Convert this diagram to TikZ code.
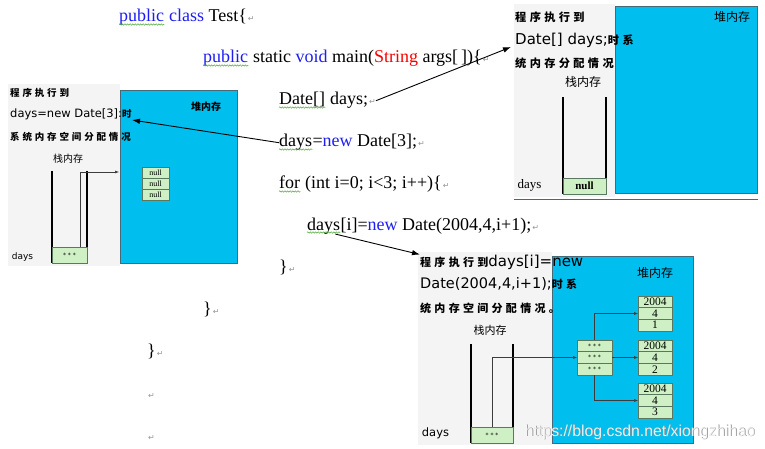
\documentclass[tikz,border=0pt]{standalone}
\usepackage{fontspec}
\setmainfont{Liberation Serif}
\newfontfamily\cjk{Noto Sans CJK SC}
\newfontfamily\cjksp[LetterSpace=30]{Noto Sans CJK SC}
\newfontfamily\dvs{DejaVu Sans}
\newfontfamily\wmfont{Liberation Sans}
\usetikzlibrary{arrows.meta,
                decorations.pathmorphing,
                positioning}

\definecolor{heapblue}{RGB}{0,191,238}
\definecolor{heapedge}{RGB}{70,105,120}
\definecolor{cellgreen}{RGB}{206,240,196}
\definecolor{celledge}{RGB}{90,120,95}
\definecolor{kwblue}{RGB}{30,30,240}
\definecolor{strred}{RGB}{250,0,0}
\definecolor{wavegreen}{RGB}{80,170,60}
\definecolor{panelgray}{RGB}{244,244,244}
\definecolor{retgray}{RGB}{150,150,150}
\definecolor{ptrgray}{RGB}{60,60,60}
\definecolor{tealline}{RGB}{40,120,120}

\newcommand{\kw}[1]{\textcolor{kwblue}{#1}}
\newcommand{\rt}{\kern1pt\textcolor{retgray}{\dvs\fontsize{8}{8}\selectfont ↵}}
\newcommand{\zh}[2]{{\cjksp\bfseries\fontsize{#1}{#1}\selectfont #2}}
\newcommand{\en}[2]{{\dvs\fontsize{#1}{#1}\selectfont #2}}

\begin{document}
\begin{tikzpicture}[x=1pt,y=-1pt,
    code/.style={anchor=base west,inner sep=0pt,font=\fontsize{18}{18}\selectfont},
    squig/.style={draw=wavegreen,line width=0.5pt,decorate,
        decoration={snake,amplitude=0.7pt,segment length=2.6pt}},
    ptxt/.style={anchor=west,inner sep=0pt},
    heap/.style={draw=heapedge,fill=heapblue,line width=0.8pt},
    stack/.style={line width=1.2pt},
    cell/.style={draw=celledge,fill=cellgreen,inner sep=0pt,outer sep=0pt,line width=0.6pt},
    conn/.style={-{Latex[length=8pt,width=5.5pt]},line width=0.9pt},
    ptr/.style={-{Latex[length=4pt,width=3pt]},line width=0.5pt,draw=ptrgray}]

    \useasboundingbox (0,0) rectangle (765,449);

    % the Java code; the first word of a line is its own node, for the squiggle
    \node[code] (u0) at (119,22) {\kw{public}};
    \node[code] (c0) at (u0.base east) {\ \kw{class} Test\{\rt};
    \node[code] (u1) at (203,63) {\kw{public}};
    \node[code] (c1) at (u1.base east) {\ static \kw{void} main(\textcolor{strred}{String} args[\,])\{\rt};
    \node[code] (u2) at (279,105) {Date[]};
    \node[code] (c2) at (u2.base east) {\ days;\rt};
    \node[code] (u3) at (279,147) {days};
    \node[code] (c3) at (u3.base east) {=\kw{new} Date[3];\rt};
    \node[code] (u4) at (279,189) {for};
    \node[code] (c4) at (u4.base east) {\ (int i=0; i<3; i++)\{\rt};
    \node[code] (u5) at (307,230) {days};
    \node[code] (c5) at (u5.base east) {[i]=\kw{new} Date(2004,4,i+1);\rt};
    \node[code] (c6) at (279,272) {\}\rt};
    \node[code] (c7) at (203,314) {\}\rt};
    \node[code] (c8) at (147,356) {\}\rt};
    \node[code] (c9) at (147,398) {\rt};
    \node[code] (c10) at (147,440) {\rt};
    \foreach \u in {u0,u1,u2,u3,u4,u5}
        \draw[squig] ([yshift=-2.5pt]\u.base west) -- ([yshift=-2.5pt]\u.base east);

    % panel after days=new Date[3];
    \fill[panelgray] (8,84) rectangle (120,266);
    \draw[heap] (120,90) rectangle (237,263);
    \node (lheap) at (206,107) {\cjk\bfseries\fontsize{10}{10}\selectfont 堆内存};
    \node[ptxt] (la) at (10,93) {\zh{9.5}{程序执行到}};
    \node[ptxt] (lb) at (10,114) {\en{11.5}{days=new Date[3]:}\zh{9.5}{时}};
    \node[ptxt] (lc) at (10,137) {\zh{9.5}{系统内存空间分配情况}};
    \node (lstk) at (68,159) {\cjk\fontsize{10}{10}\selectfont 栈内存};
    \draw[stack] (52,171) -- (52,263);
    \draw[stack] (87,171) -- (87,263);
    \node[cell,minimum width=35pt,minimum height=16pt,font=\dvs\fontsize{6}{6}\selectfont] (ls) at (69.5,255) {* * *};
    \node[font=\dvs\fontsize{9}{9}\selectfont] (ldays) at (22.5,257) {days};
    \foreach \k/\yy in {1/172.5,2/183.5,3/194.5}
        \node[cell,minimum width=27pt,minimum height=11pt,font=\fontsize{8}{8}\selectfont] (n\k) at (155.5,\yy) {null};
    \coordinate (lhit) at (119,172);
    \draw[ptr] ([xshift=10.5pt]ls.north) |- (lhit);

    % panel after Date[] days;
    \fill[panelgray] (514,4) rectangle (615,197);
    \draw[tealline, line width=1pt] (514,199) -- (758,199);
    \draw[heap] (615,6) rectangle (757,193);
    \node (theap) at (732,17) {\cjk\fontsize{12}{12}\selectfont 堆内存};
    \node[ptxt] (ta) at (515,17) {\zh{11.2}{程序执行到}};
    \node[ptxt] (tb) at (515,40) {\en{15}{Date[] days;}\zh{11.2}{时系}};
    \node[ptxt] (tc) at (515,63) {\zh{11.2}{统内存分配情况}};
    \node (tstk) at (583,82) {\cjk\fontsize{12}{12}\selectfont 栈内存};
    \draw[stack] (563,97) -- (563,194);
    \draw[stack] (606,97) -- (606,194);
    \node[cell,minimum width=43pt,minimum height=16pt,font=\bfseries\fontsize{11}{11}\selectfont] (ts) at (584.5,186) {null};
    \node[font=\fontsize{13}{13}\selectfont] (tdays) at (529.5,185) {days};

    % panel after days[i]=new Date(2004,4,i+1);
    \fill[panelgray] (418,252) rectangle (552,445);
    \draw[heap] (552,256) rectangle (693,443);
    \node (bheap) at (655,273) {\cjk\fontsize{12}{12}\selectfont 堆内存};
    \node[ptxt] (ba) at (420,262) {\zh{11}{程序执行到}\en{15}{days[i]=new}};
    \node[ptxt] (bb) at (420,284) {\en{14.5}{Date(2004,4,i+1);}\zh{11}{时系}};
    \node[ptxt] (bc) at (420,308) {\zh{11}{统内存空间分配情况。}};
    \node (bstk) at (490,330) {\cjk\fontsize{11}{11}\selectfont 栈内存};
    \draw[stack] (471,344) -- (471,443);
    \draw[stack] (513,344) -- (513,443);
    \node[cell,minimum width=42pt,minimum height=16pt,font=\dvs\fontsize{6}{6}\selectfont] (bs) at (492,435) {* * *};
    \node[font=\dvs\fontsize{11.5}{11.5}\selectfont] (bdays) at (435.5,433) {days};
    % the array of references
    \node[cell,minimum width=35pt,minimum height=11.7pt,font=\dvs\fontsize{6}{6}\selectfont] (a1) at (594.5,345.8) {* * *};
    \node[cell,minimum width=35pt,minimum height=11.7pt,font=\dvs\fontsize{6}{6}\selectfont,below=0pt of a1] (a2) {* * *};
    \node[cell,minimum width=35pt,minimum height=11.7pt,font=\dvs\fontsize{6}{6}\selectfont,below=0pt of a2] (a3) {* * *};
    % the three Date objects
    \foreach \k/\yy in {1/301.8,2/345.8,3/388.8} {
        \node[cell,minimum width=34pt,minimum height=11.7pt,font=\fontsize{11.5}{11.5}\selectfont] (o\k-a) at (655,\yy) {2004};
        \node[cell,minimum width=34pt,minimum height=11.7pt,font=\fontsize{11.5}{11.5}\selectfont,below=0pt of o\k-a] (o\k-b) {4};
        \node[cell,minimum width=34pt,minimum height=11.7pt,font=\fontsize{11.5}{11.5}\selectfont,below=0pt of o\k-b] (o\k-c) {\k};
    }
    \draw[ptr] (bs.north) |- (a2.west);
    \draw[ptr] (a1.north) |- (o1-b.west);
    \draw[ptr] (a2.east) -- (o2-b.west);
    \draw[ptr] (a3.south) |- (o3-b.west);
    % watermark
    \node[text=black!45,font=\wmfont\fontsize{15.8}{15.8}\selectfont] (wm0) at (640.6,432.6) {https://blog.csdn.net/xiongzhihao};
    \node[text=white,text opacity=0.85,font=\wmfont\fontsize{15.8}{15.8}\selectfont] (wm) at (640,432) {https://blog.csdn.net/xiongzhihao};

    % arrows from the code to the panels
    \coordinate (ltip) at (132,120);
    \draw[conn] (c2.east) -- ([shift={(-4pt,-7pt)}]tb.west);
    \draw[conn] (u3.west) -- (ltip);
    \draw[conn] ([xshift=-5pt]u5.south east) -- (ba.north west);
\end{tikzpicture}
\end{document}
